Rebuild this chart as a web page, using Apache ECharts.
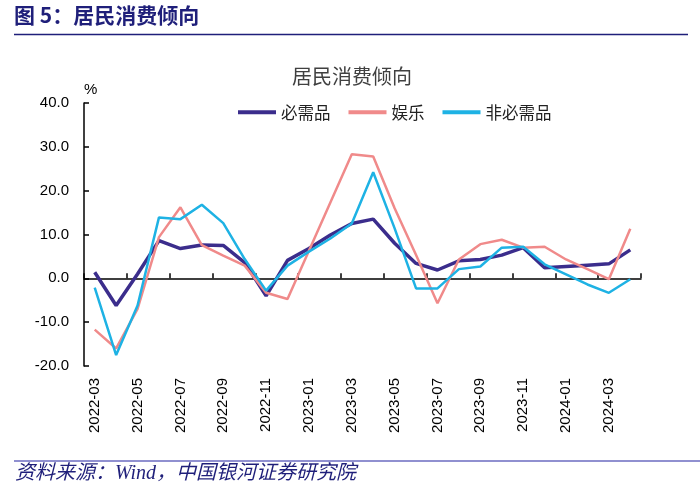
<!DOCTYPE html>
<html>
<head>
<meta charset="utf-8">
<script src="https://cdn.jsdelivr.net/npm/echarts@6/dist/echarts.min.js"></script>
<style>
html,body{margin:0;padding:0;background:#fff;}
#chart{width:700px;height:501px;}
</style>
</head>
<body>
<div id="chart"></div>
<script>
var categories = ['2022-03','2022-04','2022-05','2022-06','2022-07','2022-08','2022-09','2022-10','2022-11','2022-12',
  '2023-01','2023-02','2023-03','2023-04','2023-05','2023-06','2023-07','2023-08','2023-09','2023-10',
  '2023-11','2023-12','2024-01','2024-02','2024-03','2024-04'];
var necessities = [1.4,-6.2,1.0,8.6,6.8,7.6,7.5,3.6,-4.0,4.1,6.8,9.9,12.5,13.5,8.0,3.4,1.9,4.0,4.3,5.3,7.0,2.4,2.7,3.0,3.3,6.5];
var entertainment = [-11.7,-16.0,-7.0,9.4,16.2,7.6,5.2,2.9,-3.3,-4.7,6.3,17.3,28.3,27.8,16.0,5.3,-5.7,4.3,7.8,8.8,7.0,7.2,4.3,2.1,-0.2,11.3];
var nonNecessities = [-2.1,-17.5,-6.2,13.9,13.5,16.8,12.6,4.4,-2.8,2.9,6.1,9.1,12.5,24.2,11.4,-2.3,-2.3,2.1,2.7,7.0,7.2,3.2,0.9,-1.4,-3.3,-0.2];
var yTicks = {min:-20, max:40, interval:10};

var chart = echarts.init(document.getElementById('chart'));
var navy = '#1f1f7a';
chart.setOption({
  animation:false,
  backgroundColor:'#fff',
  grid:{left:84, right:59, top:103, bottom:135},
  legend:{
    left:233, top:99, icon:'rect', itemWidth:38, itemHeight:4, itemGap:18,
    textStyle:{fontSize:16.5, color:'#222', fontFamily:'Noto Sans CJK SC'},
    data:['必需品','娱乐','非必需品']
  },
  graphic:[
    {type:'text', left:14, top:5, style:{text:'图 5：居民消费倾向', fill:navy, font:'bold 21px "Noto Sans CJK SC"'}},
    {type:'line', shape:{x1:14,y1:34.5,x2:688,y2:34.5}, style:{stroke:navy, lineWidth:1.5}},
    {type:'text', x:352, y:66, style:{text:'居民消费倾向', fill:'#404040', font:'20px "Noto Sans CJK SC"', textAlign:'center'}},
    {type:'line', shape:{x1:14,y1:461,x2:700,y2:461}, style:{stroke:'#6b6bc0', lineWidth:1.5}},
    {type:'text', left:15, top:464, style:{text:'资料来源：Wind，中国银河证券研究院', fill:navy, font:'italic 20px "Liberation Serif", "Noto Sans CJK SC"'}}
  ],
  xAxis:[
    {type:'category', data:categories, boundaryGap:true,
      axisLine:{onZero:true, lineStyle:{color:'#000', width:1.5}},
      axisTick:{show:true, inside:true, interval:1, length:5, lineStyle:{color:'#000', width:1.5}},
      axisLabel:{show:false}, splitLine:{show:false}},
    {type:'category', data:categories, boundaryGap:true, position:'bottom',
      axisLine:{show:false, onZero:false}, axisTick:{show:false},
      axisLabel:{interval:1, rotate:90, fontSize:15, color:'#000', margin:12, fontFamily:'Liberation Sans'},
      splitLine:{show:false}}
  ],
  yAxis:{
    type:'value', min:yTicks.min, max:yTicks.max, interval:yTicks.interval,
    name:'%', nameLocation:'end', nameGap:6,
    nameTextStyle:{fontSize:15, color:'#000', align:'left', fontFamily:'Liberation Sans'},
    axisLine:{show:true, lineStyle:{color:'#000', width:1.5}},
    axisTick:{show:true, inside:true, length:5, lineStyle:{color:'#000', width:1.5}},
    axisLabel:{fontSize:15, color:'#000', margin:15, fontFamily:'Liberation Sans',
      formatter:function(v){return v.toFixed(1);}},
    splitLine:{show:false}
  },
  series:[
    {name:'必需品', type:'line', data:necessities, xAxisIndex:0, symbol:'none',
      lineStyle:{color:'#3b2d8c', width:3.5}, itemStyle:{color:'#3b2d8c'}},
    {name:'娱乐', type:'line', data:entertainment, xAxisIndex:0, symbol:'none',
      lineStyle:{color:'#f08a8a', width:2.5}, itemStyle:{color:'#f08a8a'}},
    {name:'非必需品', type:'line', data:nonNecessities, xAxisIndex:0, symbol:'none',
      lineStyle:{color:'#1eb2e4', width:2.5}, itemStyle:{color:'#1eb2e4'}}
  ]
});
</script>
</body>
</html>
